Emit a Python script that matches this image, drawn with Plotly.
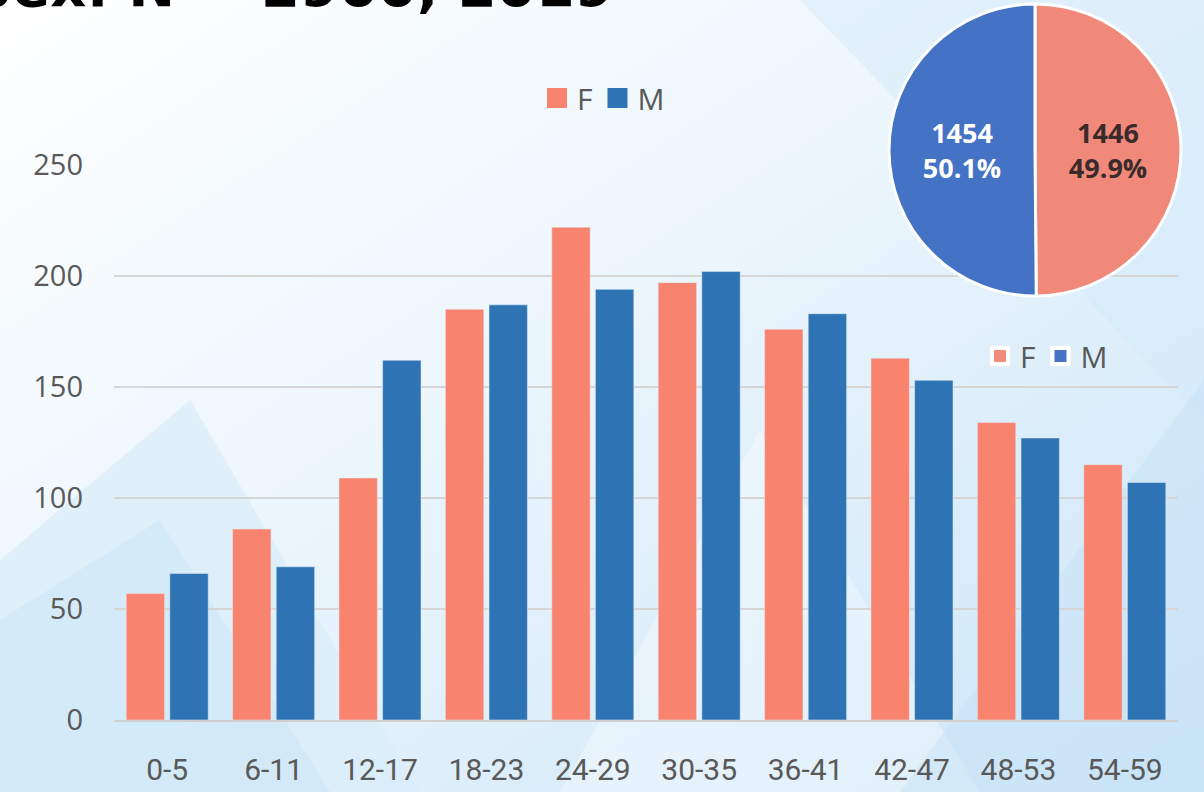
import base64
import plotly.graph_objects as go

# age bands and counts
age_groups = ['0-5', '6-11', '12-17', '18-23', '24-29', '30-35', '36-41', '42-47', '48-53', '54-59']
female = [57, 86, 109, 185, 222, 197, 176, 163, 134, 115]
male = [66, 69, 162, 187, 194, 202, 183, 153, 127, 107]

# totals shown in the pie
sex_labels = ['F', 'M']
sex_totals = [1446, 1454]

y_ticks = [0, 50, 100, 150, 200, 250]

F_COL = '#F8836F'
M_COL = '#2E74B5'
PIE_F = '#F1897A'
PIE_M = '#4472C4'
GREY = '#595959'

W, H = 1204, 792


def px_x(v):
    return v / W


def px_y(v):
    return 1 - v / H


# soft slide background as an inline svg
bg_svg = f'''<svg xmlns="http://www.w3.org/2000/svg" width="{W}" height="{H}">
<defs>
<linearGradient id="g" x1="0" y1="0" x2="1" y2="1">
<stop offset="0" stop-color="#ffffff"/>
<stop offset="0.4" stop-color="#eef7fd"/>
<stop offset="1" stop-color="#cbe5f8"/>
</linearGradient>
</defs>
<rect width="{W}" height="{H}" fill="url(#g)"/>
<polygon points="0,560 190,400 420,792 0,792" fill="#d8ecf9" opacity="0.7"/>
<polygon points="0,620 160,520 330,792 0,792" fill="#cde6f7" opacity="0.6"/>
<polygon points="560,792 760,430 980,792" fill="#ffffff" opacity="0.35"/>
<polygon points="800,0 1204,0 1204,420" fill="#d3eafa" opacity="0.5"/>
<polygon points="900,792 1204,380 1204,792" fill="#c7e2f6" opacity="0.5"/>
</svg>'''
bg_uri = 'data:image/svg+xml;base64,' + base64.b64encode(bg_svg.encode()).decode()

fig = go.Figure()

fig.add_bar(x=age_groups, y=female, name='F', marker_color=F_COL, showlegend=False)
fig.add_bar(x=age_groups, y=male, name='M', marker_color=M_COL, showlegend=False)

fig.add_trace(go.Pie(
    labels=sex_labels, values=sex_totals,
    sort=False, direction='clockwise', rotation=0,
    marker=dict(colors=[PIE_F, PIE_M], line=dict(color='white', width=3)),
    texttemplate='<b>%{value}<br>%{percent:.1%}</b>',
    textposition='inside', insidetextorientation='horizontal',
    textfont=dict(color=['#3a2b2b', 'white'], size=27, family='Open Sans'),
    domain=dict(x=[px_x(889), px_x(1181)], y=[px_y(297), px_y(3)]),
    showlegend=False, hoverinfo='label+value+percent',
))

# legend keys drawn as big squares
for name, col, leg in [('F', F_COL, 'legend'), ('M', M_COL, 'legend'),
                       ('F', PIE_F, 'legend2'), ('M', PIE_M, 'legend2')]:
    fig.add_scatter(x=[None], y=[None], mode='markers', name=name, legend=leg,
                    marker=dict(symbol='square', size=16, color=col,
                                line=dict(color=col if leg == 'legend' else 'white', width=4)))

fig.update_layout(
    width=W, height=H,
    margin=dict(l=0, r=0, t=0, b=0),
    paper_bgcolor='#eaf5fc',
    plot_bgcolor='rgba(0,0,0,0)',
    barmode='group', bargap=0.18, bargroupgap=0.12,
    font=dict(family='Open Sans', color=GREY),
    images=[dict(source=bg_uri, xref='paper', yref='paper', x=0, y=1,
                 sizex=1, sizey=1, sizing='stretch', layer='below')],
    xaxis=dict(domain=[px_x(114), px_x(1178)], showgrid=False, showline=True,
               linecolor='#d0d0d0', linewidth=2, ticks='', automargin=False,
               tickfont=dict(family='Roboto', size=30, color=GREY),
               ticklabelstandoff=22),
    yaxis=dict(domain=[px_y(720), px_y(165)], range=[0, 250], tickvals=y_ticks,
               showgrid=True, gridcolor='#d6d6d6', gridwidth=2, zeroline=False,
               automargin=False,
               tickfont=dict(size=29, color=GREY), ticklabelstandoff=30),
    legend=dict(orientation='h', x=px_x(537), y=px_y(98), xanchor='left', yanchor='middle',
                font=dict(size=30, color=GREY), bgcolor='rgba(0,0,0,0)', itemwidth=30),
    legend2=dict(orientation='h', x=px_x(980), y=px_y(356), xanchor='left', yanchor='middle',
                 font=dict(size=30, color=GREY), bgcolor='rgba(0,0,0,0)', itemwidth=30),
    showlegend=True,
)

# slide title, mostly cut off by the top edge
fig.add_annotation(text='<b>Sex: N = 2900, 2019</b>', xref='paper', yref='paper',
                   x=0, y=1, xanchor='left', yanchor='bottom', xshift=-30, yshift=-21,
                   showarrow=False, font=dict(family='DejaVu Sans', size=56, color='black'))

fig.write_html('out.html', config={'displayModeBar': False},
               post_script="document.body.style.margin='0';document.body.style.overflow='hidden';")
